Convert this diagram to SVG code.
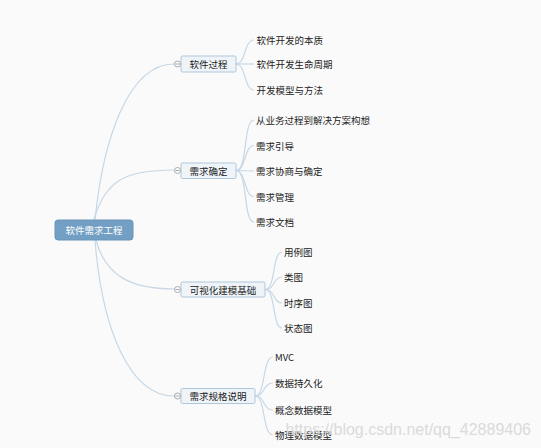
<svg xmlns="http://www.w3.org/2000/svg" width="541" height="448" viewBox="0 0 541 448">
<style>
text{font-family:"Noto Sans CJK SC","Liberation Sans",sans-serif;font-size:9.5px;dominant-baseline:central}
.root rect{fill:#729fc3;stroke:#6a95b8;stroke-width:1}
.root text{fill:#ffffff;text-anchor:middle}
.topic rect{fill:#eef4f8;stroke:#aec6da;stroke-width:1}
.topic text{fill:#222;text-anchor:middle}
.leaf text{fill:#222}
.conn path{fill:none;stroke:#c6d8e7;stroke-width:1.2}
.tog circle{fill:#fff;stroke:#a8a8a8;stroke-width:1}
.tog line{stroke:#a8a8a8;stroke-width:1}
.wm{font-family:"Liberation Sans",Arial,sans-serif;font-size:16px;fill:#dadada;text-anchor:end;dominant-baseline:auto}
</style>
<rect width="541" height="448" fill="#fafafa"/>
<g id="connectors" class="conn">
<path d="M95 220 C103 140,128 64,174 64"/>
<path d="M93 222 C105 180,125 170,174 170"/>
<path d="M96 240 C105 275,130 289,174 289"/>
<path d="M95 240 C102 330,130 396,174 396"/>
<path d="M236 64 C246 64,244 40,254 40"/>
<path d="M236 64 L254 64"/>
<path d="M236 64 C246 64,244 90,254 90"/>
<path d="M236 170.5 C248 170.5,243 120,254 120"/>
<path d="M236 170.5 C246 170.5,244 145.5,254 145.5"/>
<path d="M236 170.5 L254 171"/>
<path d="M236 170.5 C246 170.5,244 196.5,254 196.5"/>
<path d="M236 170.5 C248 170.5,243 222,254 222"/>
<path d="M265 289.5 C276 289.5,272 252,282 252"/>
<path d="M265 289.5 C275 289.5,273 277,282 277"/>
<path d="M265 289.5 C275 289.5,273 303,282 303"/>
<path d="M265 289.5 C276 289.5,272 328,282 328"/>
<path d="M255 396 C266 396,262 357,273 357"/>
<path d="M255 396 C265 396,263 383,273 383"/>
<path d="M255 396 C265 396,263 410,273 410"/>
<path d="M255 396 C266 396,262 435,273 435"/>
</g>
<g id="root" class="root">
<rect x="55" y="220" width="78" height="20" rx="3"/>
<text x="94" y="230">软件需求工程</text>
</g>
<g id="n1" class="topic">
<rect x="181" y="56" width="55" height="16" rx="1.5"/>
<text x="208.5" y="64">软件过程</text>
<g class="tog"><circle cx="177.5" cy="64" r="3"/><line x1="175.5" y1="64" x2="179.5" y2="64"/></g>
</g>
<g id="n2" class="topic">
<rect x="181" y="163" width="55" height="15.5" rx="1.5"/>
<text x="208.5" y="170.5">需求确定</text>
<g class="tog"><circle cx="177.5" cy="170.5" r="3"/><line x1="175.5" y1="170.5" x2="179.5" y2="170.5"/></g>
</g>
<g id="n3" class="topic">
<rect x="181" y="282" width="84" height="15" rx="1.5"/>
<text x="223" y="289.5">可视化建模基础</text>
<g class="tog"><circle cx="177.5" cy="289.5" r="3"/><line x1="175.5" y1="289.5" x2="179.5" y2="289.5"/></g>
</g>
<g id="n4" class="topic">
<rect x="181" y="388.5" width="74" height="15" rx="1.5"/>
<text x="218" y="396">需求规格说明</text>
<g class="tog"><circle cx="177.5" cy="396" r="3"/><line x1="175.5" y1="396" x2="179.5" y2="396"/></g>
</g>
<g id="l1" class="leaf"><text x="256.5" y="40">软件开发的本质</text></g>
<g id="l2" class="leaf"><text x="256.5" y="64">软件开发生命周期</text></g>
<g id="l3" class="leaf"><text x="256.5" y="90">开发模型与方法</text></g>
<g id="l4" class="leaf"><text x="256" y="120">从业务过程到解决方案构想</text></g>
<g id="l5" class="leaf"><text x="256" y="145.5">需求引导</text></g>
<g id="l6" class="leaf"><text x="256" y="171">需求协商与确定</text></g>
<g id="l7" class="leaf"><text x="256" y="196.5">需求管理</text></g>
<g id="l8" class="leaf"><text x="256" y="222">需求文档</text></g>
<g id="l9" class="leaf"><text x="284" y="252">用例图</text></g>
<g id="l10" class="leaf"><text x="284" y="277">类图</text></g>
<g id="l11" class="leaf"><text x="284" y="303">时序图</text></g>
<g id="l12" class="leaf"><text x="284" y="328">状态图</text></g>
<g id="l13" class="leaf"><text x="275" y="357">MVC</text></g>
<g id="l14" class="leaf"><text x="275" y="383">数据持久化</text></g>
<g id="l15" class="leaf"><text x="275" y="410">概念数据模型</text></g>
<g id="l16" class="leaf"><text x="275" y="435">物理数据模型</text></g>
<text class="wm" x="531" y="435">https://blog.csdn.net/qq_42889406</text>
</svg>
